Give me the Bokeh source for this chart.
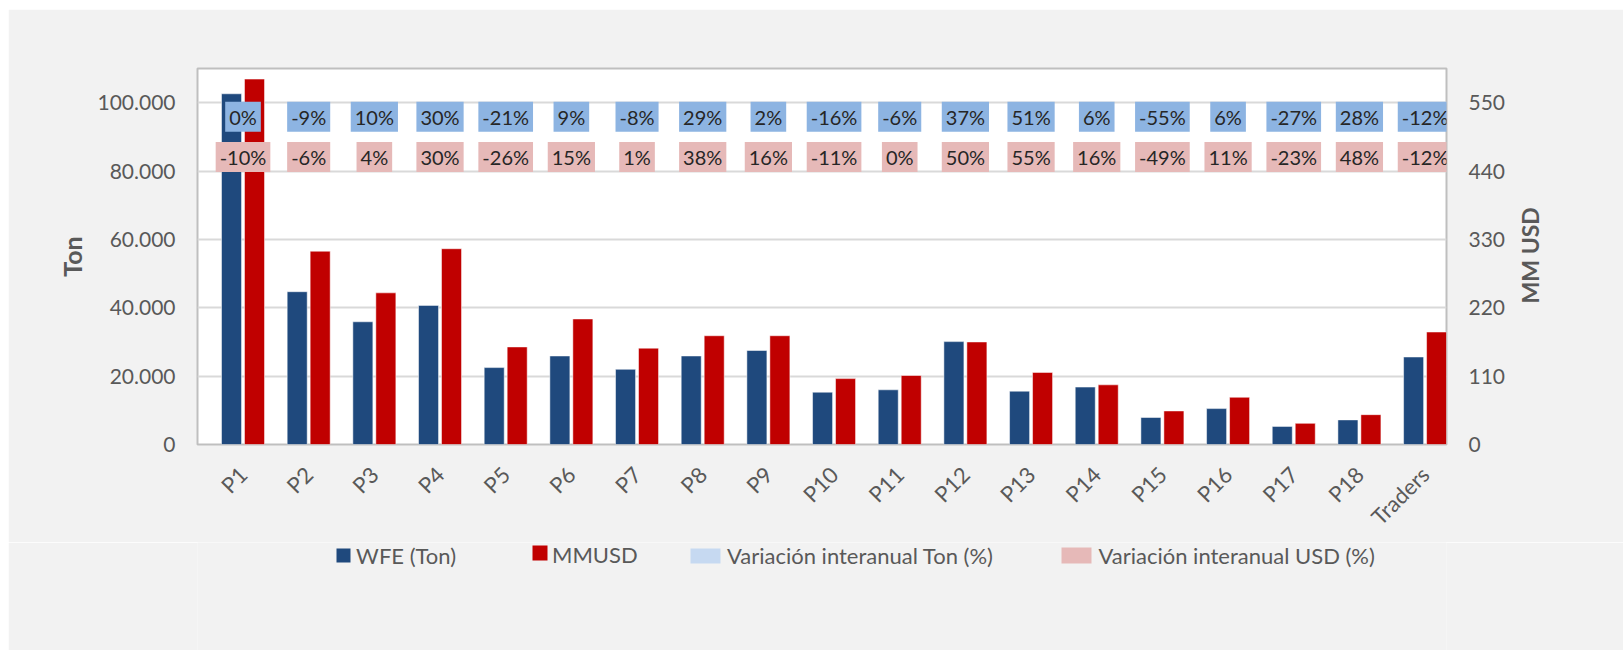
import numpy as np
from bokeh.plotting import figure
from bokeh.layouts import column
from bokeh.models import ColumnDataSource, Range1d, LinearAxis, FixedTicker
from bokeh.transform import dodge
from bokeh.core.properties import value
from bokeh.embed import file_html
from bokeh.resources import INLINE

# ---------------- data ----------------
categories = ["P1", "P2", "P3", "P4", "P5", "P6", "P7", "P8", "P9", "P10",
              "P11", "P12", "P13", "P14", "P15", "P16", "P17", "P18", "Traders"]
wfe_ton = [102600, 44700, 35900, 40700, 22500, 25900, 22000, 25900, 27500, 15300,
           16000, 30100, 15600, 16800, 7900, 10500, 5300, 7200, 25600]
mm_usd = [588, 311, 244, 315, 157, 202, 155, 175, 175, 106,
          111, 165, 116, 96, 54, 76, 34, 48, 181]
var_ton_pct = [0, -9, 10, 30, -21, 9, -8, 29, 2, -16, -6, 37, 51, 6, -55, 6, -27, 28, -12]
var_usd_pct = [-10, -6, 4, 30, -26, 15, 1, 38, 16, -11, 0, 50, 55, 16, -49, 11, -23, 48, -12]

left_ticks = [0, 20000, 40000, 60000, 80000, 100000]
left_tick_labels = ["0", "20.000", "40.000", "60.000", "80.000", "100.000"]
right_ticks = [0, 110, 220, 330, 440, 550]

series_names = ["WFE (Ton)", "MMUSD", "Variación interanual Ton (%)", "Variación interanual USD (%)"]
left_title = "Ton"
right_title = "MM USD"

# ---------------- style ----------------
FONT = "Lato"
BLUE = "#1F497D"
RED = "#C00000"
LBL_BLUE = "#8DB4E2"
LBL_PINK = "#E6B9B8"
LEG_BLUE = "#C6D9F1"
GREY_TXT = "#595959"
BG = "#F2F2F2"

n = len(categories)
src = ColumnDataSource(dict(
    x=list(range(n)),
    ton=wfe_ton,
    usd=mm_usd,
    ton_txt=[f"{v}%" for v in var_ton_pct],
    usd_txt=[f"{v}%" for v in var_usd_pct],
))

W = 1615
H_MAIN = 533
H_LEG = 108
BL, BR = 189, 177   # left / right borders (px) shared by both figures

p = figure(width=W, height=H_MAIN,
           x_range=Range1d(-0.693, 18.326), y_range=Range1d(0, 110000),
           output_backend="svg", toolbar_location=None,
           min_border_left=BL, min_border_right=BR,
           min_border_top=59, min_border_bottom=90,
           background_fill_color="white", border_fill_color=BG)
p.margin = (9, 0, 0, 8)
p.extra_y_ranges = {"usd": Range1d(0, 605)}

# bars
blue = p.vbar(x=dodge("x", -0.175, range=p.x_range), top="ton", width=0.305,
              source=src, fill_color=BLUE, line_color="white", line_alpha=0.5, line_width=1)
red = p.vbar(x=dodge("x", 0.175, range=p.x_range), top="usd", width=0.305,
             source=src, y_range_name="usd", fill_color=RED, line_color="white",
             line_alpha=0.5, line_width=1)

# data labels (text boxes)
common = dict(text_align="center", text_baseline="middle",
              text_font=value(FONT), text_font_size="20px", text_color="#262626",
              padding=(4, 3), source=src)
p.text(x="x", y=95900, text="ton_txt", background_fill_color=LBL_BLUE, **common)
p.text(x="x", y=84100, text="usd_txt", background_fill_color=LBL_PINK, **common)

# axes
p.yaxis.ticker = FixedTicker(ticks=left_ticks)
p.yaxis.major_label_overrides = {t: l for t, l in zip(left_ticks, left_tick_labels)}
p.yaxis.axis_label = left_title

ax2 = LinearAxis(y_range_name="usd", ticker=FixedTicker(ticks=right_ticks))
p.add_layout(ax2, "right")
# title-only axis: "MM USD" as a rotated label (reads bottom-to-top) starting
# low enough that it is centred on the plot height
TITLE_START = 227
ax3 = LinearAxis(y_range_name="usd", ticker=FixedTicker(ticks=[TITLE_START]))
ax3.major_label_overrides = {TITLE_START: right_title}
p.add_layout(ax3, "right")

p.xaxis.ticker = FixedTicker(ticks=list(range(n)))
p.xaxis.major_label_overrides = {i: c for i, c in enumerate(categories)}
p.xaxis.major_label_orientation = np.pi / 4

for ax in p.axis:
    ax.axis_line_color = None
    ax.major_tick_line_color = None
    ax.minor_tick_line_color = None
    ax.major_tick_out = 0
    ax.major_tick_in = 0
    ax.minor_tick_out = 0
    ax.major_label_text_font = FONT
    ax.major_label_text_font_size = "21px"
    ax.major_label_text_color = GREY_TXT
    ax.axis_label_text_font = FONT
    ax.axis_label_text_font_size = "24px"
    ax.axis_label_text_font_style = "bold"
    ax.axis_label_text_color = GREY_TXT

p.xaxis.major_label_text_font_size = "22px"
p.yaxis.axis_label_text_font_size = "25px"
p.yaxis.major_label_standoff = 22
p.yaxis.axis_label_standoff = 7
ax2.major_label_standoff = 22
ax3.major_label_standoff = 22
ax3.major_label_orientation = np.pi / 2
ax3.major_label_text_font_size = "23px"
ax3.major_label_text_font_style = "bold"
p.xaxis.major_label_standoff = 26

p.xgrid.visible = False
p.ygrid.ticker = FixedTicker(ticks=left_ticks)
p.ygrid.grid_line_color = "#D9D9D9"
p.ygrid.grid_line_width = 2

p.outline_line_color = "#BFBFBF"
p.outline_line_width = 2

# ---------------- legend strip (coordinates = figure pixels) ----------------
q = figure(width=W, height=H_LEG, x_range=Range1d(BL, W - BR), y_range=Range1d(H_LEG, 0),
           output_backend="svg", toolbar_location=None,
           x_axis_type=None, y_axis_type=None,
           min_border_left=BL, min_border_right=BR, min_border_top=0, min_border_bottom=0,
           background_fill_color=BG, border_fill_color=BG)
q.margin = (0, 0, 0, 8)
q.outline_line_color = None
q.xgrid.visible = False
q.ygrid.visible = False

leg_colors = [BLUE, RED, LEG_BLUE, LBL_PINK]
sw_left = [328, 524, 682, 1053]
sw_right = [342, 539, 712, 1083]
sw_top = [6, 3, 6, 5]
sw_bottom = [20, 18, 21, 21]
q.quad(left=sw_left, right=sw_right, top=sw_top, bottom=sw_bottom,
       fill_color=leg_colors, line_color=None)
q.text(x=[347.6, 543.5, 718.5, 1090], y=[13, 12, 13, 13], text=series_names,
       text_font=value(FONT), text_font_size="22px", text_color=GREY_TXT,
       text_baseline="middle", text_align="left")

layout = column(p, q, spacing=0)
open("out.html", "w").write(file_html(layout, INLINE))
